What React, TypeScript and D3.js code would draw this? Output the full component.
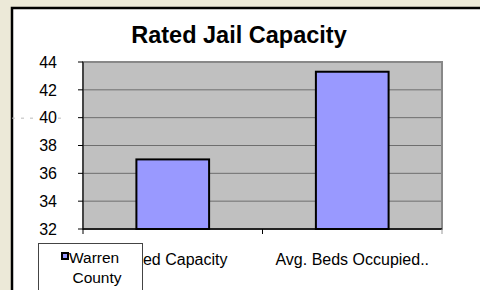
import React from 'react';
import * as d3 from 'd3';

const categories = ["Rated Capacity", "Avg. Beds Occupied.."];
const warrenCounty = [37, 43.3];
const yTicks = [32, 34, 36, 38, 40, 42, 44];
const seriesName = ["Warren", "County"];

export default function App() {
  const width = 480;
  const height = 290;
  const plot = { left: 83, right: 442, top: 62, bottom: 229 };

  const x = d3.scaleBand()
    .domain(categories)
    .range([plot.left, plot.right])
    .paddingInner(0)
    .paddingOuter(0);

  const y = d3.scaleLinear()
    .domain([32, 44])
    .range([plot.bottom, plot.top]);

  const barW = x.bandwidth() * 0.405;
  const font = "Arial, 'Liberation Sans', sans-serif";

  return (
    <svg width={width} height={height} style={{ position: 'fixed', left: 0, top: 0 }} fontFamily={font}>
      {/* window background and chart frame */}
      <rect x={0} y={0} width={width} height={height} fill="#ece9d8" />
      <rect x={12} y={8} width={width} height={height} fill="#fff" stroke="#000" strokeWidth={2.5} />

      <text x={239} y={43} textAnchor="middle" fontSize={23.5} fontWeight="bold" fill="#000">
        Rated Jail Capacity
      </text>

      {/* plot area */}
      <rect x={plot.left} y={plot.top} width={plot.right - plot.left} height={plot.bottom - plot.top}
        fill="#c0c0c0" stroke="#888" strokeWidth={2} />

      {yTicks.slice(1, -1).map(t => (
        <line key={t} x1={plot.left} x2={plot.right - 1} y1={y(t)} y2={y(t)} stroke="#6e6e6e" strokeWidth={1} />
      ))}

      {/* stray dashes at 40 */}
      <line x1={12} x2={37} y1={y(40) + 0.5} y2={y(40) + 0.5} stroke="#bbb" strokeDasharray="3,6" />
      <line x1={58} x2={64} y1={y(40) + 0.5} y2={y(40) + 0.5} stroke="#bbb" strokeDasharray="3,3" />

      {categories.map((c, i) => (
        <rect key={c}
          x={x(c)! + (x.bandwidth() - barW) / 2}
          y={y(warrenCounty[i])}
          width={barW}
          height={y(32) - y(warrenCounty[i])}
          fill="#9999ff" stroke="#000" strokeWidth={2} />
      ))}

      {/* axes */}
      <line x1={plot.left} x2={plot.left} y1={plot.top} y2={plot.bottom} stroke="#000" strokeWidth={1} />
      <line x1={plot.left} x2={plot.right} y1={plot.bottom} y2={plot.bottom} stroke="#000" strokeWidth={1.5} />
      {yTicks.map(t => (
        <g key={t}>
          <line x1={plot.left - 5} x2={plot.left} y1={y(t)} y2={y(t)} stroke="#000" />
          <text x={57} y={y(t)} dy="0.36em" textAnchor="end" fontSize={16} fill="#000">{t}</text>
        </g>
      ))}
      {[...categories.map(c => x(c)!), plot.right].map((v, i) => (
        <line key={i} x1={v} x2={v} y1={plot.bottom} y2={plot.bottom + 5}
          stroke={i === categories.length ? "#999" : "#000"} />
      ))}
      {categories.map(c => (
        <text key={c} x={x(c)! + x.bandwidth() / 2} y={265} textAnchor="middle" fontSize={16} fill="#000">{c}</text>
      ))}

      {/* legend */}
      <rect x={38.5} y={243.5} width={104} height={50} fill="#fff" stroke="#444" strokeWidth={1} />
      <rect x={62} y={253} width={6} height={6} fill="#9999ff" stroke="#000" strokeWidth={2} />
      <text x={69} y={263} fontSize={15.5} fill="#000">{seriesName[0]}</text>
      <text x={97} y={283} textAnchor="middle" fontSize={15.5} fill="#000">{seriesName[1]}</text>
    </svg>
  );
}
